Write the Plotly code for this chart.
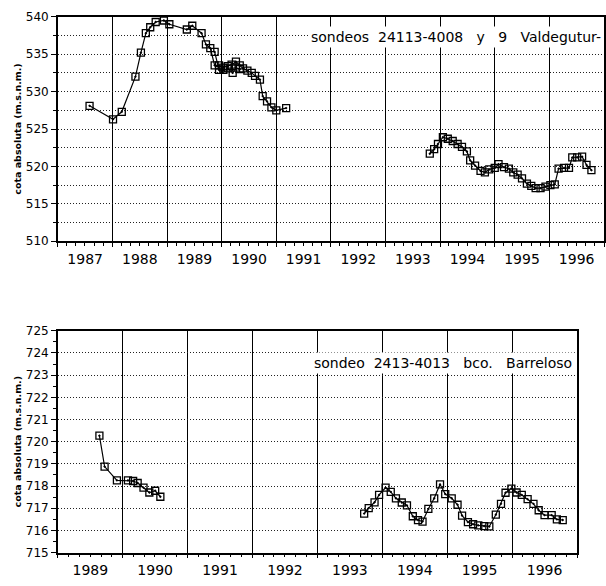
import plotly.graph_objects as go
from datetime import datetime

# ---- data: decimal years and levels (m.s.n.m.) ----
# Top chart: sondeo 24113-4008 (series A) and 24113-4009 (series B)
top_a_years = [1987.58, 1988.01, 1988.17, 1988.42, 1988.52, 1988.61, 1988.69, 1988.79,
               1988.94, 1989.04, 1989.36, 1989.46, 1989.63, 1989.71, 1989.79, 1989.87,
               1989.95, 1990.03, 1990.11, 1990.18, 1990.26, 1990.33, 1990.39, 1990.47,
               1990.55, 1990.61, 1990.70, 1990.75, 1990.83, 1990.91, 1991.00, 1991.18]
top_a_vals = [528.1, 526.3, 527.3, 532.0, 535.2, 537.8, 538.6, 539.3,
              539.5, 539.0, 538.3, 538.8, 537.8, 536.3, 535.8, 533.5,
              533.5, 533.2, 533.4, 533.6, 534.0, 533.5, 533.1, 532.8,
              532.5, 532.1, 531.6, 529.4, 528.7, 527.9, 527.5, 527.8]
top_b_years = [1989.87, 1989.95, 1990.03, 1990.11, 1990.20, 1990.26, 1990.33]
top_b_vals = [535.3, 532.9, 532.9, 533.1, 532.5, 533.2, 533.0]

top_c_years = [1993.81, 1993.89, 1993.96, 1994.05, 1994.14, 1994.23, 1994.32, 1994.40,
               1994.49, 1994.55, 1994.64, 1994.74, 1994.82, 1994.90, 1995.00, 1995.07,
               1995.17, 1995.26, 1995.34, 1995.42, 1995.50, 1995.59, 1995.67, 1995.75,
               1995.84, 1995.93, 1996.02, 1996.10, 1996.17, 1996.27, 1996.36, 1996.42,
               1996.51, 1996.60, 1996.68, 1996.77]
top_c_vals = [521.7, 522.3, 523.0, 523.9, 523.7, 523.4, 523.0, 522.6,
              522.0, 520.8, 520.1, 519.4, 519.2, 519.6, 519.8, 520.3,
              519.9, 519.7, 519.2, 518.9, 518.4, 517.7, 517.4, 517.1,
              517.1, 517.3, 517.5, 517.6, 519.7, 519.8, 519.8, 521.2,
              521.2, 521.3, 520.2, 519.5]

# Bottom chart: sondeo 2413-4013 bco. Barreloso
bot_a_years = [1989.64, 1989.72, 1989.91, 1990.08, 1990.16, 1990.23, 1990.32, 1990.41,
               1990.50, 1990.58]
bot_a_vals = [720.27, 718.88, 718.26, 718.26, 718.23, 718.14, 717.93, 717.71,
              717.79, 717.52]
bot_b_years = [1993.72, 1993.79, 1993.88, 1993.95, 1994.05, 1994.13, 1994.21, 1994.30,
               1994.38, 1994.47, 1994.55, 1994.62, 1994.71, 1994.80, 1994.89, 1994.97,
               1995.07, 1995.16, 1995.23, 1995.32, 1995.40, 1995.48, 1995.57, 1995.65,
               1995.75, 1995.83, 1995.90, 1995.99, 1996.07, 1996.15, 1996.24, 1996.33,
               1996.41, 1996.50, 1996.61, 1996.69, 1996.78]
bot_b_vals = [716.76, 717.01, 717.27, 717.60, 717.93, 717.74, 717.45, 717.26,
              717.13, 716.64, 716.47, 716.40, 716.97, 717.45, 718.08, 717.64,
              717.45, 717.16, 716.67, 716.38, 716.28, 716.23, 716.20, 716.18,
              716.71, 717.20, 717.70, 717.89, 717.71, 717.60, 717.41, 717.20,
              716.91, 716.69, 716.69, 716.50, 716.47]

S2 = "\u00a0\u00a0"
top_title = "sondeos" + S2 + "24113-4008" + S2 + "\u00a0y" + S2 + "\u00a09" + S2 + "\u00a0Valdegutur-"
bot_title = "sondeo" + S2 + "2413-4013" + S2 + "\u00a0bco." + S2 + "\u00a0Barreloso"
y_title = "<b>cota absoluta (m.s.n.m.)</b>"


def to_date(y):
    yr = int(y)
    start = datetime(yr, 1, 1)
    end = datetime(yr + 1, 1, 1)
    return start + (end - start) * (y - yr)


FONT = "DejaVu Sans"
fig = go.Figure()


def add_series(xs, ys, xa, ya):
    fig.add_trace(go.Scatter(
        x=[to_date(v) for v in xs], y=ys, xaxis=xa, yaxis=ya,
        mode="lines+markers",
        line=dict(color="black", width=1.2),
        marker=dict(symbol="square-open-dot", size=7, color="black",
                    line=dict(width=1.3, color="black")),
        showlegend=False, hoverinfo="skip"))


add_series(top_a_years, top_a_vals, "x", "y")
add_series(top_b_years, top_b_vals, "x", "y")
add_series(top_c_years, top_c_vals, "x", "y")
add_series(bot_a_years, bot_a_vals, "x2", "y2")
add_series(bot_b_years, bot_b_vals, "x2", "y2")

W, H = 606, 586
GRIDDASH = "1px,2px"


def xaxis_cfg(left, right, start, end):
    return dict(
        type="date", domain=[left / W, right / W],
        range=[datetime(start, 1, 1), datetime(end, 1, 1)],
        tick0=datetime(start, 1, 1), dtick="M12", tickformat="%Y",
        ticklabelmode="period",
        showgrid=True, gridcolor="black", gridwidth=1,
        showline=True, linecolor="black", linewidth=1.5, mirror=True,
        ticks="outside", ticklen=4, tickcolor="black", tickwidth=1,
        tickfont=dict(family=FONT, size=14, color="black"),
        minor=dict(dtick="M2", ticks="outside", ticklen=3, tickcolor="black",
                   showgrid=False),
        zeroline=False, fixedrange=True)


def yaxis_cfg(top, bottom, lo, hi, dt, mdt, mgrid):
    return dict(
        domain=[1 - bottom / H, 1 - top / H], range=[lo, hi], dtick=dt, tick0=lo,
        showgrid=True, gridcolor="#222222", gridwidth=1, griddash=GRIDDASH,
        showline=True, linecolor="black", linewidth=1.5, mirror=True,
        ticks="outside", ticklen=5, tickcolor="black",
        tickfont=dict(family=FONT, size=12, color="black"),
        minor=dict(dtick=mdt, ticks="outside", ticklen=3, tickcolor="black",
                   showgrid=mgrid, gridcolor="#222222", griddash=GRIDDASH, gridwidth=1),
        title=dict(text=y_title, font=dict(family=FONT, size=9.5, color="black"),
                   standoff=3),
        zeroline=False, fixedrange=True)


fig.update_layout(
    width=W, height=H,
    margin=dict(l=0, r=0, t=0, b=0),
    paper_bgcolor="white", plot_bgcolor="white",
    xaxis=xaxis_cfg(58, 605, 1987, 1997),
    yaxis=yaxis_cfg(10, 240, 510, 540, 5, 2.5, True),
    xaxis2=dict(xaxis_cfg(58, 578, 1989, 1997), anchor="y2"),
    yaxis2=dict(yaxis_cfg(331.7, 559, 715, 725, 1, 0.5, False), anchor="x2"),
)
fig.layout.xaxis.anchor = "y"
fig.layout.yaxis.anchor = "x"

fig.add_annotation(text=top_title, xref="paper", yref="paper",
                   x=605 / W, y=1 - 31 / H, xanchor="right", yanchor="middle",
                   showarrow=False, bgcolor="white", borderpad=2,
                   font=dict(family=FONT, size=14, color="black"))
fig.add_annotation(text=bot_title, xref="paper", yref="paper",
                   x=576 / W, y=1 - 365 / H, xanchor="right", yanchor="middle",
                   showarrow=False, bgcolor="white", borderpad=2,
                   font=dict(family=FONT, size=14, color="black"))

fig.write_html("out.html")
